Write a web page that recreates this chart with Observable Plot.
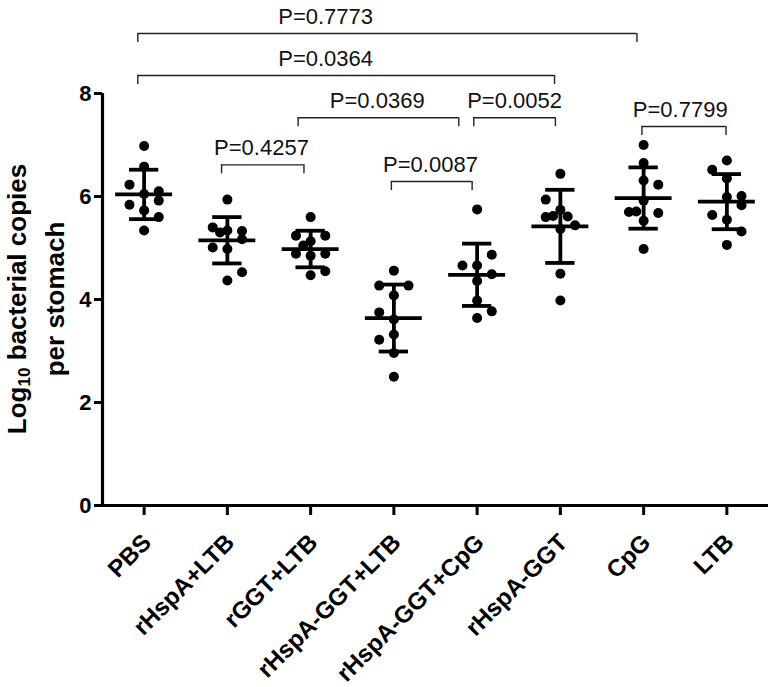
<!DOCTYPE html>
<html><head><meta charset="utf-8">
<script src="https://cdn.jsdelivr.net/npm/d3@7"></script>
<script src="https://cdn.jsdelivr.net/npm/@observablehq/plot@0.6"></script>
<style>
body{margin:0;background:#fff}
svg{font-family:"Liberation Sans",Arial,sans-serif}
</style>
</head><body><div id="chart"></div>
<script>
// ---- data ----
const categories = ["PBS","rHspA+LTB","rGGT+LTB","rHspA-GGT+LTB","rHspA-GGT+CpG","rHspA-GGT","CpG","LTB"];
const valuesPBS   = [6.98,6.58,6.23,6.10,6.05,5.92,5.84,5.73,5.60,5.34];
const valuesHspLTB= [5.94,5.40,5.30,5.34,5.33,5.17,5.01,4.98,4.53,4.37];
const valuesGGTLTB= [5.60,5.24,5.24,5.13,5.05,4.89,4.85,4.89,4.55,4.47];
const valuesHGLTB = [4.56,4.27,4.27,4.08,3.75,3.61,3.32,3.22,2.96,2.50];
const valuesHGCpG = [5.75,4.87,4.66,4.66,4.49,4.36,3.98,3.77,3.64];
const valuesHG    = [6.44,5.94,5.74,5.60,5.62,5.61,5.44,5.37,4.50,3.98];
const valuesCpG   = [7.00,6.65,6.31,6.23,5.92,5.70,5.71,5.68,5.53,4.98];
const valuesLTB   = [6.70,6.52,6.35,5.99,6.01,5.83,5.64,5.55,5.32,5.06];
// column of each dot within its scatter (-1 left, 0 centre, 1 right)
const colsPBS   = [0,0,-1,1,0,1,-1,0,1,0];
const colsHspLTB= [0,-1,-0.5,0,1,1,-1,0,1,0];
const colsGGTLTB= [0,-1,1,0,-0.5,-1,0,1,1,0];
const colsHGLTB = [0,-1,1,0,-1,0,0,-1,0,0];
const colsHGCpG = [0,1,-1,0,1,0,0,1,0];
const colsHG    = [0,-1,0,-1,-0.5,0.5,1,0,0,0];
const colsCpG   = [0,0,0,1,0,-1,-0.5,1,0,0];
const colsLTB   = [0,-1,0,0,1,1,-1,0,1,0];
const groupValues  = [valuesPBS,valuesHspLTB,valuesGGTLTB,valuesHGLTB,valuesHGCpG,valuesHG,valuesCpG,valuesLTB];
const groupColumns = [colsPBS,colsHspLTB,colsGGTLTB,colsHGLTB,colsHGCpG,colsHG,colsCpG,colsLTB];
const means = [6.04,5.15,4.98,3.64,4.48,5.42,5.97,5.90];
const sds   = [0.48,0.45,0.355,0.65,0.605,0.71,0.595,0.535];
const yTicks = [0,2,4,6,8];
// significance brackets (x in category-index units, level in y units)
const pLabels  = ["P=0.7773","P=0.0364","P=0.0369","P=0.0052","P=0.7799","P=0.4257","P=0.0087"];
const pFrom    = [-0.076,-0.076,1.85,3.96,5.98,0.93,2.97];
const pTo      = [5.92,4.93,3.78,4.94,6.99,1.92,3.94];
const pLevel   = [9.165,8.35,7.53,7.53,7.36,6.615,6.29];
const pLabelAt = [2.18,2.18,2.80,4.45,6.44,1.41,3.44];

// ---- derived tables ----
const colStep = 0.176, meanHalf = 0.342, capHalf = 0.176, drop = 0.175;
const pts = categories.flatMap((c,i)=>groupValues[i].map((v,j)=>({i, v, col: groupColumns[i][j]})));
const stats = categories.map((c,i)=>({i, m: means[i], lo: means[i]-sds[i], hi: means[i]+sds[i]}));
const brackets = pLabels.map((t,k)=>({t, x1:pFrom[k], x2:pTo[k], y:pLevel[k], xt:pLabelAt[k]}));
const xTicks = d3.range(categories.length);

const plot = Plot.plot({
  width: 772, height: 687,
  marginLeft: 102, marginRight: 4, marginTop: 93, marginBottom: 182,
  x: {type: "linear", domain: [-0.5, 7.5]},
  y: {domain: [0, 8]},
  style: {background: "#fff", fontFamily: "'Liberation Sans', Arial, sans-serif", color: "#000"},
  marks: [
    // tick marks only
    Plot.axisX({ticks: xTicks, tickFormat: () => "", tickSize: 10, strokeWidth: 3, label: null}),
    // rotated category labels only
    Plot.axisX({ticks: xTicks, tickFormat: i => categories[i], tickSize: 0, tickRotate: -45,
      fontSize: 24, fontWeight: "bold", tickPadding: 0, dy: 33, dx: 3, label: null}),
    Plot.axisY({ticks: yTicks, tickSize: 8, strokeWidth: 3, fontSize: 22, fontWeight: "bold", tickPadding: 3, label: null}),
    Plot.ruleY([0], {x1: -0.5, x2: 7.5, strokeWidth: 3.2}),
    Plot.ruleX([-0.5], {y1: 0, y2: 8, strokeWidth: 3.2}),
    Plot.ruleY(stats, {y: "m", x1: d => d.i - meanHalf, x2: d => d.i + meanHalf, strokeWidth: 3.8}),
    Plot.ruleY(stats, {y: "hi", x1: d => d.i - capHalf, x2: d => d.i + capHalf, strokeWidth: 3.8}),
    Plot.ruleY(stats, {y: "lo", x1: d => d.i - capHalf, x2: d => d.i + capHalf, strokeWidth: 3.8}),
    Plot.ruleX(stats, {x: "i", y1: "lo", y2: "hi", strokeWidth: 3.8}),
    Plot.dot(pts, {x: d => d.i + d.col * colStep, y: "v", r: 5, fill: "#000", stroke: "none"}),
    Plot.ruleY(brackets, {y: "y", x1: "x1", x2: "x2", strokeWidth: 1.4, stroke: "#222"}),
    Plot.ruleX(brackets, {x: "x1", y1: "y", y2: d => d.y - drop, strokeWidth: 1.4, stroke: "#222"}),
    Plot.ruleX(brackets, {x: "x2", y1: "y", y2: d => d.y - drop, strokeWidth: 1.4, stroke: "#222"}),
    Plot.text(brackets, {x: "xt", y: "y", text: "t", dy: -17, fontSize: 22, fill: "#111"})
  ]
});

// two-line y-axis title with subscript
const svg = d3.select(plot);
const cy = 299;
const t1 = svg.append("text").attr("transform", `translate(17,${cy}) rotate(-90)`)
  .attr("text-anchor", "middle").attr("dominant-baseline", "central")
  .attr("font-size", 26).attr("font-weight", "bold").attr("fill", "#000");
t1.append("tspan").text("Log");
t1.append("tspan").attr("font-size", 17).attr("dy", 7).text("10");
t1.append("tspan").attr("dy", -7).text(" bacterial copies");
svg.append("text").attr("transform", `translate(55,${cy}) rotate(-90)`)
  .attr("text-anchor", "middle").attr("dominant-baseline", "central")
  .attr("font-size", 26).attr("font-weight", "bold").attr("fill", "#000")
  .text("per stomach");

document.getElementById("chart").appendChild(plot);
</script>
</body></html>
